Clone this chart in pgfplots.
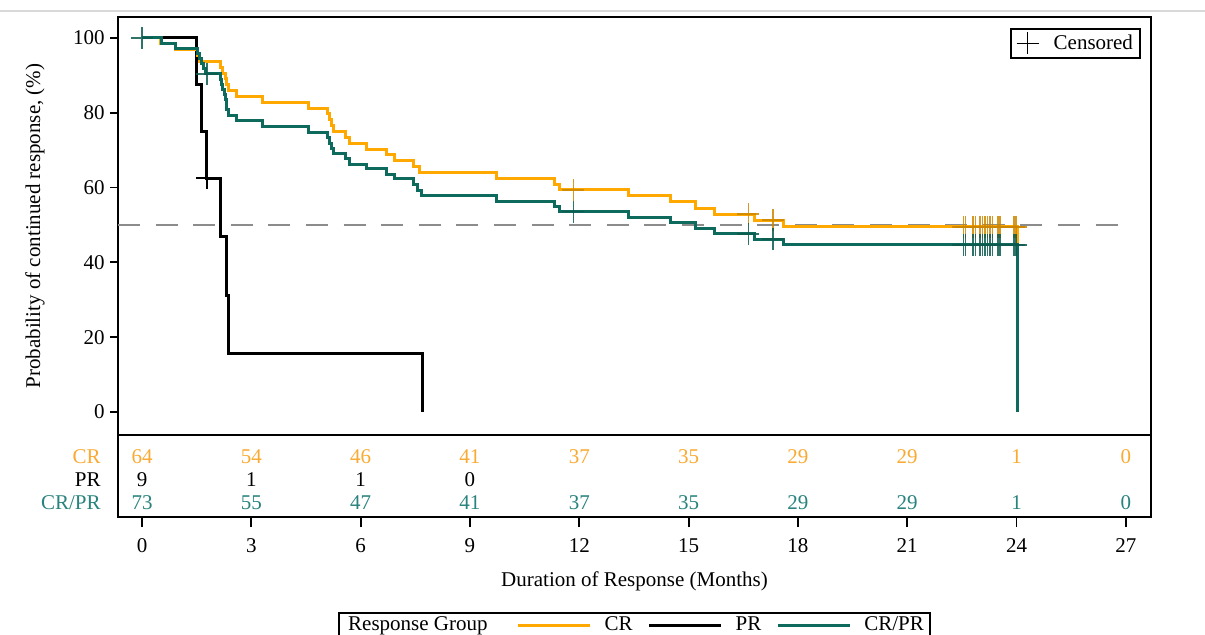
\documentclass[border=0pt]{standalone}
\usepackage{fontspec}
\setmainfont{Liberation Serif}
\usepackage{pgfplots}
\usepackage{pgfplotstable}
\pgfplotsset{compat=1.18}
\definecolor{crline}{RGB}{255,168,0}
\definecolor{crprline}{RGB}{14,106,92}
\definecolor{crtext}{RGB}{250,170,50}
\definecolor{crprtext}{RGB}{40,130,125}
\definecolor{refgray}{RGB}{140,140,140}

\pgfplotstableread{
x y n
0 60 64
3 60 54
6 60 46
9 60 41
12 60 37
15 60 35
18 60 29
21 60 29
24 60 1
27 60 0
}\riskCR
\pgfplotstableread{
x y n
0 37 9
3 37 1
6 37 1
9 37 0
}\riskPR
\pgfplotstableread{
x y n
0 14 73
3 14 55
6 14 47
9 14 41
12 14 37
15 14 35
18 14 29
21 14 29
24 14 1
27 14 0
}\riskCRPR

\begin{document}
\fontsize{10.5pt}{12.5pt}\selectfont
\begin{tikzpicture}
\useasboundingbox (0pt,0pt) rectangle (602.5pt,-317pt);
\draw[black!15, line width=0.6pt] (0pt,-5.5pt) -- (602.5pt,-5.5pt);
\pgfplotsset{
  km/.style={const plot, no marks, line width=1.5pt},
  cens/.style={only marks, mark=+, mark size=5.5pt, mark options={line width=0.8pt}},
  risk/.style={only marks, mark=*, mark size=0pt, mark options={draw=none,fill=none},
    nodes near coords, point meta=explicit symbolic, nodes near coords align={center},
    nodes near coords style={anchor=center, inner sep=0pt, font=\fontsize{10.5pt}{12.5pt}\selectfont}},
}
\begin{axis}[
  at={(59pt,-8.5pt)}, anchor=north west, scale only axis,
  width=516.5pt, height=209pt,
  xmin=-0.66, xmax=27.69, ymin=-6.15, ymax=105.6,
  xtick=\empty, ytick={0,20,40,60,80,100}, ytick pos=left,
  tick align=outside, major tick length=4pt,
  every tick/.style={black, line width=0.9pt},
  axis line style={line width=1pt},
  /pgf/number format/assume math mode=true,
  yticklabel style={xshift=1pt},
  ylabel={Probability of continued response, (\%)},
  ylabel style={at={(axis description cs:-0.0803,0.5)}, anchor=center},
  legend style={at={(0.9903,0.9737)}, anchor=north east, draw=black, line width=1pt,
    inner xsep=3pt, inner ysep=0.75pt, fill=white,
    /tikz/every odd column/.append style={column sep=5.5pt}},
]
\addlegendimage{only marks, mark=+, mark size=5.5pt, black, mark options={line width=0.8pt}}
\addlegendentry{Censored\kern-1.5pt\rule{0pt}{0pt}}

\addplot[forget plot, refgray, line width=1pt, dash pattern=on 11pt off 7.8pt] coordinates {(-0.66,50) (27,50)};

\addplot[forget plot, km, black] coordinates {
(0,100) (1.50,87.5) (1.64,75) (1.76,62.5) (2.14,46.9) (2.32,31.25) (2.37,15.6) (7.70,0)};

\addplot[forget plot, km, crline] coordinates {
(0,100) (0.50,98.4) (0.92,96.9) (1.52,95.3) (1.58,93.8) (2.16,92.2) (2.22,90.6) (2.28,89.1)
(2.33,87.5) (2.38,85.9) (2.58,84.4) (3.31,82.8) (4.57,81.2) (5.10,79.7) (5.15,78.1) (5.20,76.6)
(5.26,75.0) (5.57,73.4) (5.70,71.9) (6.17,70.3) (6.71,68.8) (6.94,67.2) (7.44,65.6) (7.62,64.1)
(9.73,62.5) (11.33,60.9) (11.47,59.4) (13.34,57.8) (14.49,56.2) (15.18,54.5) (15.72,52.9)
(16.82,51.3) (17.6,49.5) (24.02,0)};

\addplot[forget plot, km, crprline] coordinates {
(0,100) (0.54,98.6) (0.92,97.3) (1.52,95.9) (1.58,94.5) (1.63,93.2) (1.69,91.8) (1.75,90.4)
(2.16,89.0) (2.19,87.6) (2.22,86.3) (2.26,84.9) (2.29,83.5) (2.31,82.2) (2.33,80.8) (2.36,79.4)
(2.58,77.9) (3.31,76.3) (4.57,74.8) (5.10,73.3) (5.15,71.9) (5.20,70.5) (5.26,69.1) (5.57,67.7)
(5.70,66.3) (6.17,65.0) (6.71,63.6) (6.94,62.3) (7.44,60.9) (7.55,59.3) (7.68,57.8) (9.73,56.2)
(11.33,54.9) (11.47,53.6) (13.34,52.0) (14.49,50.6) (15.18,49.1) (15.72,47.6) (16.82,46.2)
(17.6,44.7) (24.02,0)};

\addplot[forget plot, cens, black] coordinates {(1.78,62.5)};
\addplot[forget plot, cens, crline!80!black, opacity=0.85] coordinates {
(11.84,59.4) (16.64,52.9) (17.32,51.3)
(22.54,49.5) (22.60,49.5) (22.81,49.5) (22.87,49.5) (23.00,49.5) (23.07,49.5) (23.13,49.5)
(23.20,49.5) (23.27,49.5) (23.34,49.5) (23.49,49.5) (23.54,49.5) (23.93,49.5) (23.99,49.5)};
\addplot[forget plot, cens, crprline!85!black, opacity=0.85] coordinates {
(0,100) (1.78,90.4) (11.84,53.6) (16.64,47.6) (17.32,46.2)
(22.54,44.7) (22.60,44.7) (22.81,44.7) (22.87,44.7) (23.00,44.7) (23.07,44.7) (23.13,44.7)
(23.20,44.7) (23.27,44.7) (23.34,44.7) (23.49,44.7) (23.54,44.7) (23.93,44.7) (23.99,44.7)};
\end{axis}

\begin{axis}[
  at={(59pt,-217.5pt)}, anchor=north west, scale only axis,
  width=516.5pt, height=41pt,
  xmin=-0.66, xmax=27.69, ymin=0, ymax=82,
  xtick={0,3,...,27}, xtick pos=bottom,
  ytick={14,37,60}, yticklabels={{\color{crprtext}CR/PR},PR,{\color{crtext}CR}},
  ytick pos=left, ytick style={draw=none},
  tick align=outside, major tick length=5pt,
  every tick/.style={black, line width=0.9pt},
  axis line style={line width=1pt},
  /pgf/number format/assume math mode=true,
  xticklabel style={yshift=-2pt},
  xlabel={Duration of Response (Months)},
  xlabel style={at={(axis description cs:0.5,-0.78)}, anchor=center},
  legend columns=4,
  legend style={at={(0.5,-1.159)}, anchor=north, draw=black, line width=1pt,
    inner xsep=3pt, inner ysep=0pt, fill=white,
    /tikz/every odd column/.append style={column sep=4.5pt},
    /tikz/every even column/.append style={column sep=5.5pt}},
  legend image code/.code={\draw[#1] (0pt,0pt) -- (36pt,0pt);},
]
\addlegendimage{empty legend}
\addlegendentry{\kern-5pt Response Group\kern7pt\rule{0pt}{0pt}}
\addlegendimage{crline, line width=1.5pt}
\addlegendentry{CR}
\addlegendimage{black, line width=1.5pt}
\addlegendentry{PR}
\addlegendimage{crprline, line width=1.5pt}
\addlegendentry{CR/PR\kern-2pt\rule{0pt}{0pt}}

\addplot[forget plot, risk, nodes near coords style={text=crtext}] table[x=x, y=y, meta=n] {\riskCR};
\addplot[forget plot, risk, nodes near coords style={text=black}] table[x=x, y=y, meta=n] {\riskPR};
\addplot[forget plot, risk, nodes near coords style={text=crprtext}] table[x=x, y=y, meta=n] {\riskCRPR};
\end{axis}
\end{tikzpicture}
\end{document}
